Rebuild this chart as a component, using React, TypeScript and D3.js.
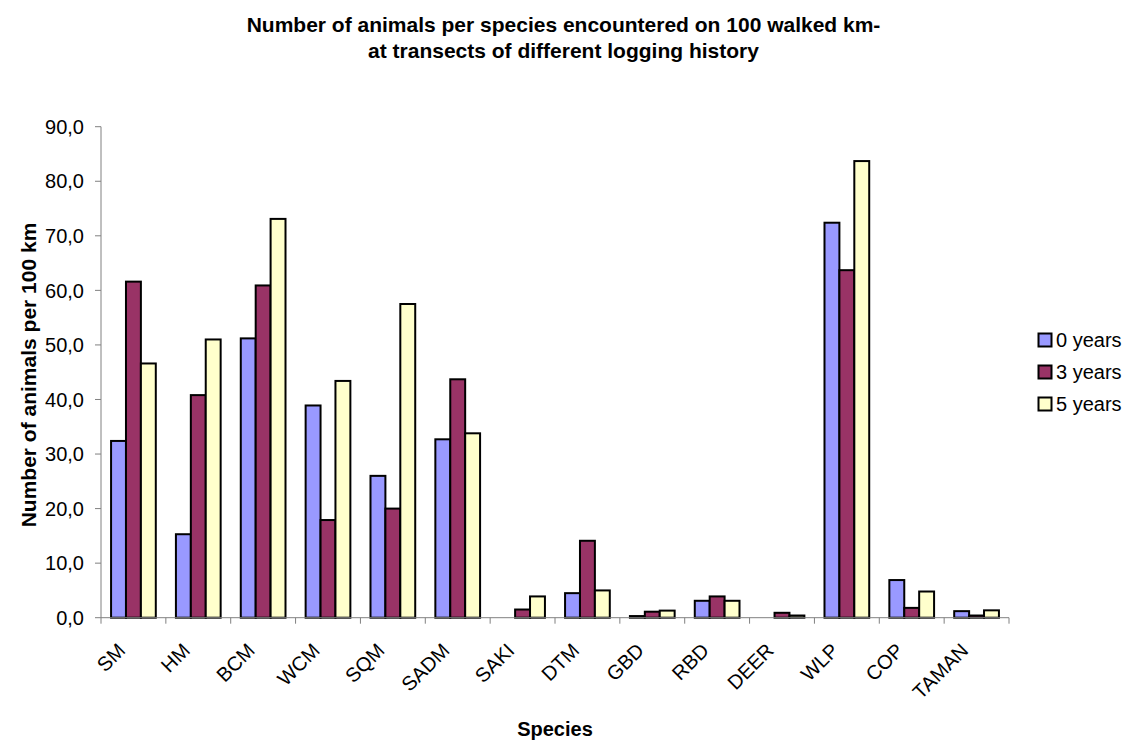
import * as d3 from "d3";

const species = ["SM", "HM", "BCM", "WCM", "SQM", "SADM", "SAKI", "DTM", "GBD", "RBD", "DEER", "WLP", "COP", "TAMAN"];
const seriesNames = ["0 years", "3 years", "5 years"];
const years0 = [32.4, 15.3, 51.2, 38.9, 26.0, 32.7, 0, 4.5, 0.3, 3.1, 0, 72.4, 6.9, 1.2];
const years3 = [61.6, 40.8, 60.9, 17.9, 20.0, 43.7, 1.5, 14.1, 1.1, 3.9, 0.9, 63.7, 1.8, 0.4];
const years5 = [46.6, 51.0, 73.1, 43.4, 57.5, 33.8, 3.9, 5.0, 1.3, 3.1, 0.4, 83.7, 4.8, 1.35];
const yTicks = [0, 10, 20, 30, 40, 50, 60, 70, 80, 90];
const colors = ["#9999ff", "#993366", "#ffffcc"];

const W = 1127;
const H = 740;
const FONT = "'Liberation Sans', Arial, sans-serif";

const App = () => {
  const series = [years0, years3, years5];
  const x = d3.scaleBand().domain(species).range([101, 1009]).paddingInner(0).paddingOuter(0);
  const y = d3.scaleLinear().domain([0, 90]).range([617.7, 126.7]);
  const bw = x.bandwidth();
  const barW = bw / 4.35;
  const groupOff = (bw - barW * 3) / 2;

  return (
    <svg width={W} height={H} style={{ position: "absolute", left: 0, top: 0 }} fontFamily={FONT}>
      <rect width={W} height={H} fill="white" />
      <text x={563.5} y={32} textAnchor="middle" fontSize={21} fontWeight="bold">
        Number of animals per species encountered on 100 walked km-
      </text>
      <text x={563.5} y={58} textAnchor="middle" fontSize={21} fontWeight="bold">
        at transects of different logging history
      </text>

      {/* bars */}
      {species.map((s, i) => (
        <g key={s}>
          {series.map((vals, k) => {
            const v = vals[i];
            if (v <= 0) return null;
            const bx = (x(s) ?? 0) + groupOff + k * barW;
            return (
              <rect
                key={k}
                x={bx}
                y={y(v)}
                width={barW}
                height={y(0) - y(v)}
                fill={colors[k]}
                stroke="black"
                strokeWidth={2}
              />
            );
          })}
        </g>
      ))}

      {/* y axis */}
      <line x1={101} x2={101} y1={y(90)} y2={y(0)} stroke="#808080" strokeWidth={1} />
      {yTicks.map((t) => (
        <g key={t}>
          <line x1={95} x2={101} y1={y(t)} y2={y(t)} stroke="#808080" />
          <text x={84} y={y(t)} dy="0.36em" textAnchor="end" fontSize={20}>
            {t.toFixed(1).replace(".", ",")}
          </text>
        </g>
      ))}

      {/* x axis */}
      <line x1={101} x2={1009} y1={y(0)} y2={y(0)} stroke="#808080" strokeWidth={1} />
      {species.map((s) => (
        <line key={s} x1={x(s)} x2={x(s)} y1={y(0)} y2={y(0) + 6} stroke="#808080" />
      ))}
      <line x1={1009} x2={1009} y1={y(0)} y2={y(0) + 6} stroke="#808080" />
      {species.map((s) => {
        const cx = (x(s) ?? 0) + bw / 2 - 7;
        const cy = y(0) + 34;
        return (
          <text key={s} x={cx} y={cy} textAnchor="end" fontSize={20} transform={`rotate(-45 ${cx} ${cy})`}>
            {s}
          </text>
        );
      })}

      <text x={555} y={736} textAnchor="middle" fontSize={20} fontWeight="bold">
        Species
      </text>
      <text
        x={0}
        y={0}
        textAnchor="middle"
        fontSize={21}
        fontWeight="bold"
        transform={`translate(36 ${375}) rotate(-90)`}
      >
        Number of animals per 100 km
      </text>

      {/* legend */}
      {seriesNames.map((n, k) => {
        const ly = 340 + k * 32;
        return (
          <g key={n}>
            <rect x={1038.5} y={ly - 6.5} width={13} height={13} fill={colors[k]} stroke="black" strokeWidth={2} />
            <text x={1056} y={ly} dy="0.36em" fontSize={20}>
              {n}
            </text>
          </g>
        );
      })}
    </svg>
  );
};

export default App;
